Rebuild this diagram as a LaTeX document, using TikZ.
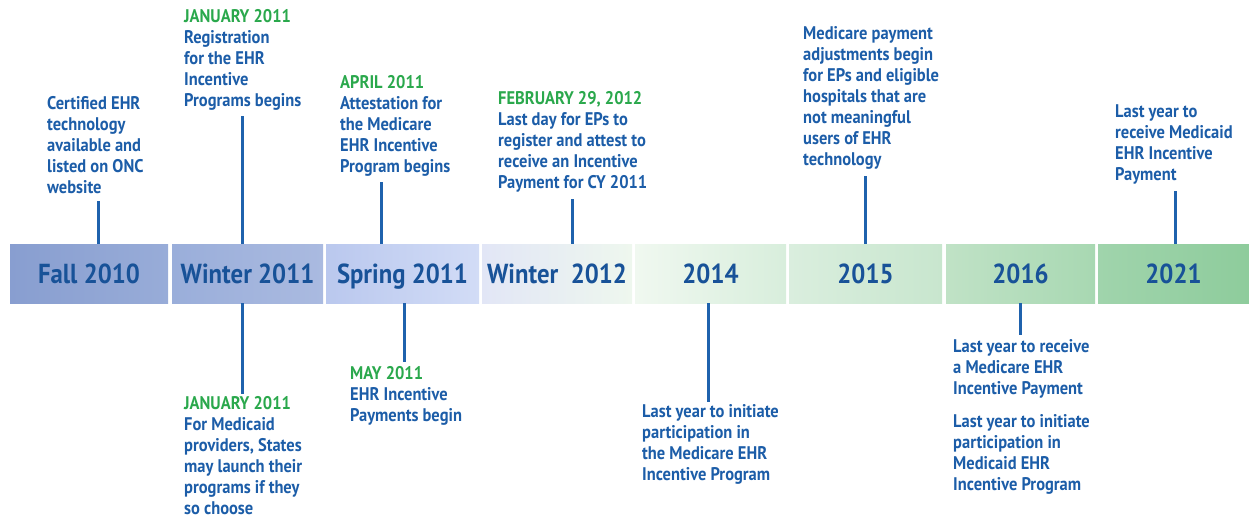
\documentclass[tikz,border=0pt]{standalone}
\usepackage{fontspec}
\setmainfont{PT Sans}[FakeStretch=0.9]
\usetikzlibrary{positioning}

\definecolor{ehrblue}{RGB}{28,93,168}
\definecolor{ehrdark}{RGB}{24,82,152}
\definecolor{ehrgreen}{RGB}{42,168,76}
\definecolor{tickblue}{RGB}{31,98,173}

\begin{document}
\begin{tikzpicture}[x=1pt,y=-1pt,
    period/.style={minimum height=59pt, inner sep=0pt, text height=22pt, text depth=2pt, font=\fontsize{27.5}{28}\selectfont\bfseries, text=ehrdark},
    note/.style={anchor=north west, align=left, inner sep=2pt, font=\fontsize{18.3}{21}\selectfont\bfseries, text=ehrblue},
    tick/.style={tickblue, line width=3pt}]

        \useasboundingbox (0,0) rectangle (1249,519);

        % the bar of periods
        \node[period, minimum width=158pt, left color={rgb,255:red,136;green,158;blue,208}, right color={rgb,255:red,152;green,172;blue,216}] (fall) at (89,273.5) {Fall 2010};
        \node[period, minimum width=151pt, left color={rgb,255:red,154;green,174;blue,218}, right color={rgb,255:red,170;green,186;blue,224}] (win11) at (247.5,273.5) {Winter 2011};
        \node[period, minimum width=153pt, left color={rgb,255:red,186;green,200;blue,238}, right color={rgb,255:red,210;green,220;blue,246}] (spr11) at (402.5,273.5) {Spring 2011};
        \node[period, minimum width=150pt, left color={rgb,255:red,226;green,230;blue,246}, middle color=white, right color={rgb,255:red,238;green,247;blue,238}] (win12) at (557,273.5) {Winter\ \ 2012};
        \node[period, minimum width=151pt, left color={rgb,255:red,240;green,248;blue,240}, right color={rgb,255:red,216;green,238;blue,220}] (y14) at (710.5,273.5) {2014};
        \node[period, minimum width=153pt, left color={rgb,255:red,218;green,238;blue,222}, right color={rgb,255:red,200;green,230;blue,206}] (y15) at (865.5,273.5) {2015};
        \node[period, minimum width=149pt, left color={rgb,255:red,192;green,226;blue,198}, right color={rgb,255:red,168;green,216;blue,178}] (y16) at (1020.5,273.5) {2016};
        \node[period, minimum width=151pt, left color={rgb,255:red,160;green,212;blue,172}, right color={rgb,255:red,142;green,204;blue,156}] (y21) at (1173.5,273.5) {2021};

        % notes above the bar
        \node[note] (certified) at (45,94) {Certified EHR\\technology\\available and\\listed on ONC\\website};
        \node[note] (register) at (182,7) {\color{ehrgreen}JANUARY 2011\\Registration\\for the EHR\\Incentive\\Programs begins};
        \node[note] (attest) at (338,73) {\color{ehrgreen}APRIL 2011\\Attestation for\\the Medicare\\EHR Incentive\\Program begins};
        \node[note] (lastday) at (496,89) {\color{ehrgreen}FEBRUARY 29, 2012\\Last day for EPs to\\register and attest to\\receive an Incentive\\Payment for CY 2011};
        \node[note] (adjust) at (801,24) {Medicare payment\\adjustments begin\\for EPs and eligible\\hospitals that are\\not meaningful\\users of EHR\\technology};
        \node[note] (medicaid) at (1113,102) {Last year to\\receive Medicaid\\EHR Incentive\\Payment};

        % notes below the bar
        \node[note] (states) at (182,394) {\color{ehrgreen}JANUARY 2011\\For Medicaid\\providers, States\\may launch their\\programs if they\\so choose};
        \node[note] (payments) at (348,364) {\color{ehrgreen}MAY 2011\\EHR Incentive\\Payments begin};
        \node[note] (initiate) at (640,402) {Last year to initiate\\participation in\\the Medicare EHR\\Incentive Program};
        \node[note] (receive) at (951,337) {Last year to receive\\a Medicare EHR\\Incentive Payment};
        \node[note, below=12pt of receive.south west, anchor=north west] (medicaidinit) {Last year to initiate\\participation in\\Medicaid EHR\\Incentive Program};

        % ticks
        \draw[tick, shorten >=5pt] (fall.north -| 98,0) -- (certified.south -| 98,0);
        \draw[tick, shorten >=4pt] (win11.north -| 242,0) -- (register.south -| 242,0);
        \draw[tick, shorten >=4pt] (spr11.north -| 381,0) -- (attest.south -| 381,0);
        \draw[tick, shorten >=5pt] (win12.north -| 572,0) -- (lastday.south -| 572,0);
        \draw[tick, shorten >=5pt] (y15.north -| 865,0) -- (adjust.south -| 865,0);
        \draw[tick, shorten >=5pt] (y21.north -| 1175,0) -- (medicaid.south -| 1175,0);
        \draw[tick] (win11.south -| 242,0) -- (states.north -| 242,0);
        \draw[tick, shorten >=2pt] (spr11.south -| 404,0) -- (payments.north -| 404,0);
        \draw[tick] (y14.south -| 708,0) -- (initiate.north -| 708,0);
        \draw[tick, shorten >=2pt] (y16.south -| 1020,0) -- (receive.north -| 1020,0);

\end{tikzpicture}
\end{document}
